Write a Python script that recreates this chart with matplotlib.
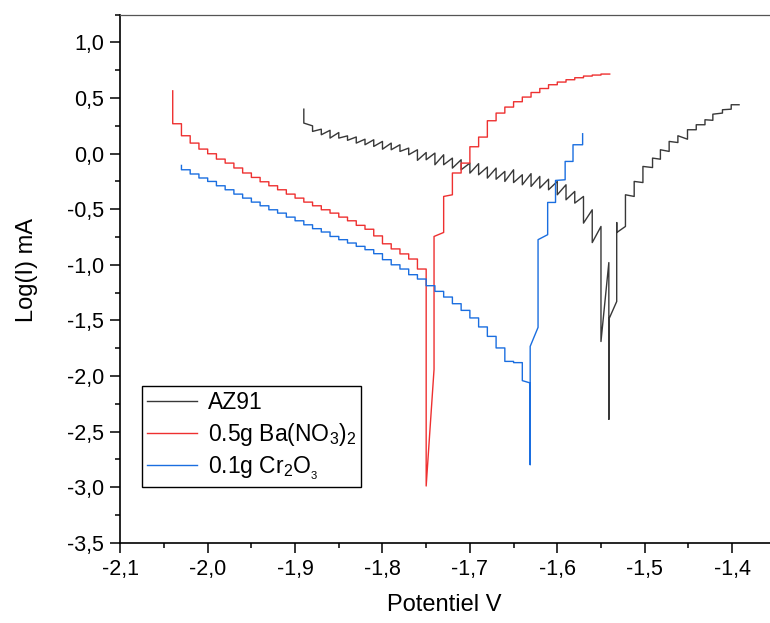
import matplotlib
matplotlib.use('Agg')
import matplotlib.pyplot as plt
from matplotlib.ticker import MultipleLocator, FuncFormatter

plt.rcParams['font.family'] = ['Liberation Sans', 'DejaVu Sans']
plt.rcParams['mathtext.fontset'] = 'custom'
plt.rcParams['mathtext.rm'] = 'Liberation Sans'
plt.rcParams['mathtext.it'] = 'Liberation Sans:italic'

'''Polarisation curves: Log(I) against potential, read off the original figure.'''

# --- AZ91 (black) ---
az_v = [-1.89, -1.88, -1.87, -1.86, -1.85, -1.84, -1.83, -1.82, -1.81, -1.80,
        -1.79, -1.78, -1.77, -1.76, -1.75, -1.74, -1.73, -1.72, -1.71, -1.70,
        -1.69, -1.68, -1.67, -1.66, -1.65, -1.64, -1.63, -1.62, -1.61, -1.60,
        -1.59, -1.58, -1.57, -1.56, -1.55]
az_hi = [0.40, 0.25, 0.22, 0.21, 0.19, 0.16, 0.15, 0.13, 0.125, 0.11,
         0.095, 0.08, 0.05, 0.035, 0.01, 0.005, -0.01, -0.04, -0.055, -0.085,
         -0.09, -0.12, -0.13, -0.16, -0.145, -0.19, -0.18, -0.205, -0.23, -0.25,
         -0.28, -0.34, -0.385, -0.505, -0.655]
az_lo = [0.275, 0.20, 0.17, 0.14, 0.14, 0.12, 0.095, 0.08, 0.065, 0.04,
         0.035, 0.02, -0.01, -0.06, -0.055, -0.10, -0.10, -0.13, -0.145, -0.175,
         -0.19, -0.22, -0.23, -0.25, -0.26, -0.28, -0.295, -0.31, -0.325, -0.37,
         -0.415, -0.445, -0.625, -0.80, -1.69]
az_mid_v = [-1.541, -1.541, -1.541, -1.532, -1.532, -1.532]
az_mid_i = [-0.98, -2.39, -1.49, -1.33, -0.62, -0.71]
az_up_v = [-1.522, -1.512, -1.502, -1.491, -1.482, -1.472, -1.462, -1.451,
           -1.441, -1.431, -1.422, -1.411, -1.401]
az_up_lo = [-0.655, -0.385, -0.26, -0.125, -0.05, 0.02, 0.10, 0.13,
            0.215, 0.26, 0.30, 0.365, 0.40]
az_up_hi = [-0.37, -0.25, -0.115, -0.04, 0.035, 0.11, 0.161, 0.215,
            0.26, 0.305, 0.355, 0.395, 0.44]
az_end = (-1.392, 0.44)

# --- 0.5g Ba(NO3)2 (red) ---
ba_start = 0.565
ba_down_edges = [-2.04, -2.03, -2.02, -2.01, -2.00, -1.99, -1.98, -1.97, -1.96, -1.95,
                 -1.94, -1.93, -1.92, -1.91, -1.90, -1.89, -1.88, -1.87, -1.86, -1.85,
                 -1.84, -1.83, -1.82, -1.81, -1.80, -1.79, -1.78, -1.77, -1.76, -1.75]
ba_down = [0.269, 0.161, 0.095, 0.041, -0.001, -0.049, -0.085, -0.129, -0.174, -0.214,
           -0.253, -0.289, -0.325, -0.364, -0.400, -0.436, -0.469, -0.505, -0.535, -0.571,
           -0.604, -0.645, -0.68, -0.74, -0.811, -0.857, -0.902, -0.948, -1.038]
ba_mid_v = [-1.75, -1.741, -1.741, -1.73, -1.73, -1.72]
ba_mid_i = [-2.99, -1.94, -0.745, -0.709, -0.385, -0.37]
ba_up_edges = [-1.72, -1.71, -1.70, -1.69, -1.68, -1.67, -1.66, -1.65, -1.64, -1.63,
               -1.62, -1.61, -1.60, -1.59, -1.58, -1.57, -1.56, -1.55, -1.54]
ba_up = [-0.174, -0.085, 0.062, 0.149, 0.296, 0.365, 0.419, 0.467, 0.509, 0.550,
         0.586, 0.620, 0.644, 0.665, 0.683, 0.698, 0.707, 0.716]

# --- 0.1g Cr2O3 (blue) ---
cr_start = -0.106
cr_down_edges = [-2.03, -2.02, -2.01, -2.00, -1.99, -1.98, -1.97, -1.96, -1.95, -1.94,
                 -1.93, -1.92, -1.91, -1.90, -1.89, -1.88, -1.87, -1.86, -1.85, -1.84,
                 -1.83, -1.82, -1.81, -1.80, -1.79, -1.78, -1.77, -1.76, -1.75, -1.74,
                 -1.73, -1.72, -1.71, -1.70, -1.69, -1.68, -1.67, -1.66, -1.65, -1.64]
cr_down = [-0.145, -0.183, -0.219, -0.250, -0.289, -0.325, -0.364, -0.400, -0.436, -0.469,
           -0.505, -0.535, -0.571, -0.604, -0.640, -0.675, -0.705, -0.745, -0.774, -0.804,
           -0.834, -0.864, -0.90, -0.954, -1.000, -1.038, -1.089, -1.128, -1.188, -1.239,
           -1.290, -1.350, -1.410, -1.478, -1.559, -1.644, -1.748, -1.869, -1.88]
cr_up_v = [-1.64, -1.631, -1.631, -1.631, -1.622, -1.622, -1.611, -1.611,
           -1.602, -1.602, -1.591, -1.591, -1.582, -1.582, -1.571, -1.571]
cr_up_i = [-2.042, -2.063, -2.798, -1.734, -1.563, -0.774, -0.729, -0.439,
           -0.439, -0.241, -0.235, -0.070, -0.070, 0.080, 0.080, 0.179]

x_ticks = [-2.1, -2.0, -1.9, -1.8, -1.7, -1.6, -1.5, -1.4]
y_ticks = [1.0, 0.5, 0.0, -0.5, -1.0, -1.5, -2.0, -2.5, -3.0, -3.5]


def stairs(edges, vals):
    '''Level held from one edge to the next, then a vertical jump.'''
    xs, ys = [], []
    for k, y in enumerate(vals):
        xs += [edges[k], edges[k + 1]]
        ys += [y, y]
    return xs, ys


def zigzag(v, first, second):
    '''Vertical segment at each potential, joined to the next one.'''
    xs, ys = [], []
    for a, b, c in zip(v, first, second):
        xs += [a, a]
        ys += [b, c]
    return xs, ys


# assemble the three curves
x1, y1 = zigzag(az_v, az_hi, az_lo)
x2, y2 = zigzag(az_up_v, az_up_lo, az_up_hi)
az_x = x1 + az_mid_v + x2 + [az_end[0]]
az_y = y1 + az_mid_i + y2 + [az_end[1]]

x1, y1 = stairs(ba_down_edges, ba_down)
x2, y2 = stairs(ba_up_edges, ba_up)
ba_x = [ba_down_edges[0]] + x1 + ba_mid_v + x2
ba_y = [ba_start] + y1 + ba_mid_i + y2

x1, y1 = stairs(cr_down_edges, cr_down)
cr_x = [cr_down_edges[0]] + x1 + cr_up_v
cr_y = [cr_start] + y1 + cr_up_i

fig = plt.figure(figsize=(7.7, 6.23), dpi=100)
ax = fig.add_axes([0.1562, 0.1289, 0.8513, 0.8475])

ax.plot(az_x, az_y, color='#383838', lw=1.0, label='AZ91')
ax.plot(ba_x, ba_y, color='#ee3030', lw=1.0, label='0.5g Ba(NO$_3$)$_2$')
ax.plot(cr_x, cr_y, color='#1a6ee0', lw=1.0, label='0.1g Cr$_2$O$_{_3}$')

ax.set_xlim(-2.1, -1.35)
ax.set_ylim(-3.5, 1.25)
ax.set_xticks(x_ticks)
ax.set_yticks(y_ticks)
ax.xaxis.set_minor_locator(MultipleLocator(0.05))
ax.yaxis.set_minor_locator(MultipleLocator(0.25))
comma = FuncFormatter(lambda v, pos: ('%.1f' % v).replace('.', ','))
ax.xaxis.set_major_formatter(comma)
ax.yaxis.set_major_formatter(comma)

ax.tick_params(which='major', direction='out', length=7.5, width=1.1, labelsize=15.5, pad=4)
ax.tick_params(which='minor', direction='out', length=3.8, width=1.1)
for side in ['left', 'bottom']:
    ax.spines[side].set_linewidth(1.2)
ax.spines['top'].set_linewidth(0.9)
ax.spines['top'].set_color('#555555')
ax.spines['right'].set_visible(False)

ax.set_xlabel('Potentiel V', fontsize=17)
ax.set_ylabel('Log(I) mA', fontsize=17)
ax.xaxis.set_label_coords(0.495, -0.098)
ax.yaxis.set_label_coords(-0.126, 0.516)

leg = ax.legend(loc='lower left', bbox_to_anchor=(0.0336, 0.106), borderaxespad=0,
                fontsize=16.5, fancybox=False, edgecolor='black', framealpha=1,
                handlelength=2.2, handletextpad=0.45, labelspacing=0.3, borderpad=0.2)
leg.get_frame().set_linewidth(1.0)

fig.savefig('out.png', dpi=100)
